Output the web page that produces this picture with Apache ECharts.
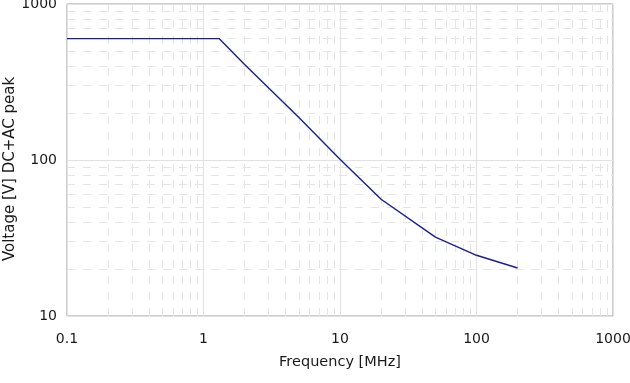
<!DOCTYPE html>
<html><head><meta charset="utf-8">
<script src="https://cdn.jsdelivr.net/npm/echarts@6/dist/echarts.min.js"></script>
<style>html,body{margin:0;padding:0;background:#fff}#c{width:630px;height:383px}</style>
</head><body><div id="c"></div>
<script>
const frequencyMHz = [0.1, 1.3, 2, 5, 10, 20, 50, 100, 200];
const voltagePeak  = [600, 600, 410, 187, 101, 56, 32, 24.5, 20.3];
const decadesX = [0.1, 1, 10, 100];
const decadesY = [10, 100];
const minorMult = [2, 3, 4, 5, 6, 7, 8, 9];

const minorX = [];
decadesX.forEach(d => minorMult.forEach(m => minorX.push(+(d * m).toPrecision(3))));
const minorY = [];
decadesY.forEach(d => minorMult.forEach(m => minorY.push(+(d * m).toPrecision(3))));

const font = 'DejaVu Sans, Verdana, sans-serif';
const chart = echarts.init(document.getElementById('c'));
chart.setOption({
  animation: false,
  grid: { left: 67, right: 17, top: 4, bottom: 67, show: true, borderColor: '#9a9a9a', borderWidth: 1,
          containLabel: false, outerBoundsMode: 'none' },
  xAxis: {
    type: 'log', min: 0.1, max: 1000, logBase: 10,
    name: 'Frequency [MHz]', nameLocation: 'middle', nameGap: 39, nameMoveOverlap: false,
    nameTextStyle: { color: '#1a1a1a', fontFamily: font, fontSize: 14.5 },
    axisLine: { show: false }, axisTick: { show: false },
    axisLabel: { color: '#1a1a1a', fontFamily: font, fontSize: 14, margin: 16,
      formatter: v => String(v) },
    splitLine: { show: true, lineStyle: { color: '#e2e2e2', width: 1 } }
  },
  yAxis: {
    type: 'log', min: 10, max: 1000, logBase: 10,
    name: 'Voltage [V] DC+AC peak', nameLocation: 'middle', nameGap: 49, nameRotate: 90,
    nameMoveOverlap: false,
    nameTextStyle: { color: '#1a1a1a', fontFamily: font, fontSize: 15, padding: [0, 18, 0, 0] },
    axisLine: { show: false }, axisTick: { show: false },
    axisLabel: { color: '#1a1a1a', fontFamily: font, fontSize: 14, margin: 10,
      formatter: v => String(v) },
    splitLine: { show: true, lineStyle: { color: '#e2e2e2', width: 1 } }
  },
  series: [
    {
      type: 'line', data: [], z: 1, silent: true,
      markLine: {
        silent: true, symbol: 'none', label: { show: false },
        lineStyle: { color: '#e4e4e4', type: [8, 8], width: 1 },
        data: minorX.map(v => ({ xAxis: v })).concat(minorY.map(v => ({ yAxis: v })))
      }
    },
    {
      type: 'line', z: 5,
      data: frequencyMHz.map((f, i) => [f, voltagePeak[i]]),
      showSymbol: false, symbol: 'none',
      lineStyle: { color: '#1c1c96', width: 1.4 }
    }
  ]
});
</script></body></html>
